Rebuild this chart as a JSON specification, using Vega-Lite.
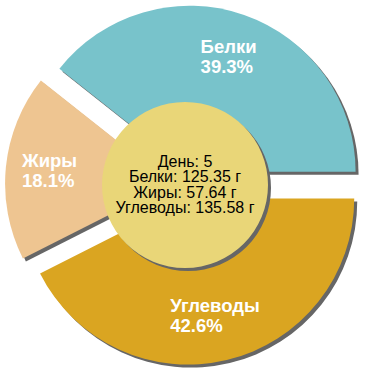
{
  "$schema": "https://vega.github.io/schema/vega-lite/v6.json",
  "width": 370,
  "height": 370,
  "padding": 0,
  "autosize": {"type": "fit", "contains": "padding"},
  "background": "white",
  "config": {"view": {"stroke": null}},
  "data": {
    "values": [
      {"day": 5, "name": "Углеводы", "grams": 135.58, "pct": "42.6%", "ord": 1},
      {"day": 5, "name": "Жиры", "grams": 57.64, "pct": "18.1%", "ord": 2},
      {"day": 5, "name": "Белки", "grams": 125.35, "pct": "39.3%", "ord": 3}
    ]
  },
  "transform": [
    {"joinaggregate": [{"op": "sum", "field": "grams", "as": "total"}]},
    {"window": [{"op": "sum", "field": "grams", "as": "cum"}], "sort": [{"field": "ord"}], "frame": [null, 0]},
    {"calculate": "(datum.cum - datum.grams) / datum.total", "as": "f0"},
    {"calculate": "datum.cum / datum.total", "as": "f1"},
    {"calculate": "PI / 2 + PI * (datum.f0 + datum.f1)", "as": "mid"},
    {"calculate": "14 * sin(datum.mid)", "as": "ex"},
    {"calculate": "14 * cos(datum.mid)", "as": "ey"},
    {"calculate": "datum.ex + 121 * sin(datum.mid) - 5.75 * max(length(datum.name), length(datum.pct))", "as": "lx"},
    {"calculate": "datum.ey + 121 * cos(datum.mid)", "as": "ly"}
  ],
  "layer": [
    {
      "mark": {"type": "arc", "outerRadius": 166, "xOffset": 3, "yOffset": 3, "color": "#666666"},
      "encoding": {
        "theta": {"field": "f0", "type": "quantitative", "stack": null, "scale": {"domain": [0, 1], "range": [1.5707963, 7.8539816]}},
        "theta2": {"field": "f1"},
        "x": {"field": "ex", "type": "quantitative", "scale": {"domain": [-185, 185], "nice": false, "zero": false}, "axis": null},
        "y": {"field": "ey", "type": "quantitative", "scale": {"domain": [-185, 185], "nice": false, "zero": false}, "axis": null}
      }
    },
    {
      "mark": {"type": "arc", "outerRadius": 166},
      "encoding": {
        "theta": {"field": "f0", "type": "quantitative", "stack": null},
        "theta2": {"field": "f1"},
        "x": {"field": "ex", "type": "quantitative"},
        "y": {"field": "ey", "type": "quantitative"},
        "color": {
          "field": "name",
          "type": "nominal",
          "scale": {"domain": ["Белки", "Жиры", "Углеводы"], "range": ["#78C3CB", "#EEC591", "#DAA521"]},
          "legend": null
        }
      }
    },
    {
      "transform": [{"pivot": "name", "value": "grams", "groupby": ["day"]}],
      "layer": [
        {
          "mark": {"type": "circle", "size": 27556, "opacity": 1, "color": "#666666", "xOffset": 3, "yOffset": 3},
          "encoding": {
            "x": {"datum": 0, "type": "quantitative"},
            "y": {"datum": 0, "type": "quantitative"}
          }
        },
        {
          "mark": {"type": "circle", "size": 27556, "opacity": 1, "color": "#E9D678"},
          "encoding": {
            "x": {"datum": 0, "type": "quantitative"},
            "y": {"datum": 0, "type": "quantitative"}
          }
        },
        {
          "transform": [
            {"calculate": "['День: ' + datum.day, 'Белки: ' + format(datum['Белки'], '.2f') + ' г', 'Жиры: ' + format(datum['Жиры'], '.2f') + ' г', 'Углеводы: ' + format(datum['Углеводы'], '.2f') + ' г']", "as": "txt"}
          ],
          "mark": {"type": "text", "font": "Liberation Sans", "fontSize": 16, "lineHeight": 15.4, "color": "#000000", "align": "center", "baseline": "middle", "dy": -23},
          "encoding": {
            "x": {"datum": 0, "type": "quantitative"},
            "y": {"datum": 0, "type": "quantitative"},
            "text": {"field": "txt", "type": "nominal"}
          }
        }
      ]
    },
    {
      "transform": [{"calculate": "[datum.name, datum.pct]", "as": "lbl"}],
      "mark": {"type": "text", "font": "Liberation Sans", "fontSize": 18.5, "fontWeight": "bold", "color": "white", "align": "left", "baseline": "middle", "lineHeight": 20, "dy": -10},
      "encoding": {
        "x": {"field": "lx", "type": "quantitative"},
        "y": {"field": "ly", "type": "quantitative"},
        "text": {"field": "lbl", "type": "nominal"}
      }
    }
  ]
}
